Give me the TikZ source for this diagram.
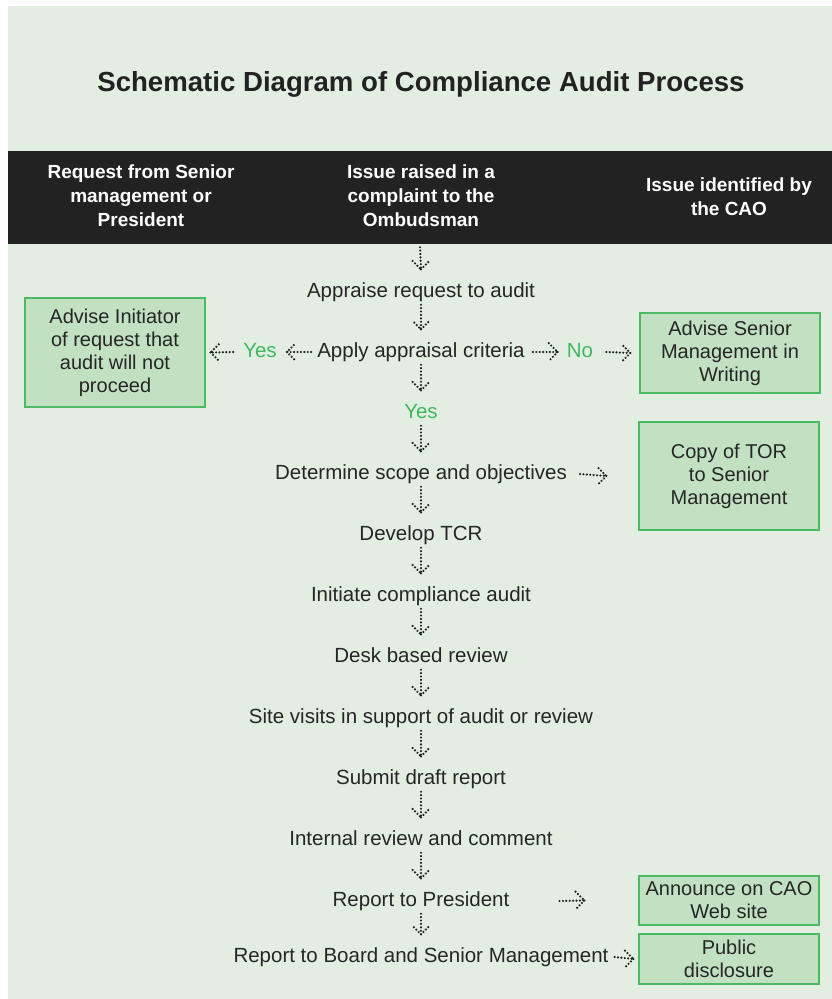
\documentclass[tikz,border=0pt]{standalone}
\usepackage{fontspec}
\setmainfont{Liberation Sans}

\definecolor{bgc}{RGB}{226,238,226}
\definecolor{boxc}{RGB}{194,224,194}
\definecolor{edgec}{RGB}{76,186,98}
\definecolor{okc}{RGB}{64,184,96}
\definecolor{bandc}{RGB}{34,34,34}
\definecolor{inkc}{RGB}{38,38,38}

\tikzset{
  dots/.style={draw=bandc, line width=2.4pt, line cap=round, dash pattern=on 0pt off 3.4pt},
  darr/.style={dots, to path={([yshift=-3pt]\tikztostart) -- ([yshift=13pt]\tikztotarget) -- ++(-9,-9)
      ([yshift=13pt]\tikztotarget) -- ++(9,-9)}},
  rarr/.style 2 args={dots, to path={([xshift=#1]\tikztostart) -- ([xshift=-#2]\tikztotarget) -- ++(-9,-9)
      ([xshift=-#2]\tikztotarget) -- ++(-9,9)}},
  larr/.style 2 args={dots, to path={([xshift=-#1]\tikztostart) -- ([xshift=#2]\tikztotarget) -- ++(9,-9)
      ([xshift=#2]\tikztotarget) -- ++(9,9)}},
  steptxt/.style={text=inkc, inner sep=0pt, text height=14.5pt, text depth=4.5pt,
      font=\fontsize{20.5}{23}\selectfont},
  answer/.style={steptxt, text=okc},
  notebox/.style={draw=edgec, fill=boxc, line width=1.3pt, text=inkc, align=center,
      minimum width=180pt, inner sep=2pt, font=\fontsize{20}{23}\selectfont},
  headtxt/.style={text=white, align=center, font=\bfseries\fontsize{19}{24}\selectfont}
}

\begin{document}
\begin{tikzpicture}[x=1pt, y=-1pt]
  \useasboundingbox (0,0) rectangle (832,999);
  \fill[white] (0,0) rectangle (832,999);
  \fill[bgc] (8,6) rectangle (832,999); % page background

  % title and header band
  \node[text=bandc, font=\bfseries\fontsize{27.6}{30}\selectfont] (title) at (421,84)
      {Schematic Diagram of Compliance Audit Process};
  \node[fill=bandc, minimum width=824pt, minimum height=93pt, inner sep=0pt] (band) at (420,197.5) {};
  \node[headtxt] (senior) at (141,196) {Request from Senior\\management or\\President};
  \node[headtxt] (ombuds) at (421,196) {Issue raised in a\\complaint to the\\Ombudsman};
  \node[headtxt] (cao) at (729,197) {Issue identified by\\the CAO};

  % main column of steps
  \foreach \name/\txt/\y in {appraise/Appraise request to audit/292,
      apply/Apply appraisal criteria/352,
      scope/Determine scope and objectives/474,
      tcr/Develop TCR/535,
      initiate/Initiate compliance audit/596,
      desk/Desk based review/657,
      site/Site visits in support of audit or review/718,
      submit/Submit draft report/779,
      internal/Internal review and comment/840,
      president/Report to President/901,
      board/Report to Board and Senior Management/957}
    \node[steptxt] (\name) at (421,\y) {\txt};

  % yes / no answers
  \node[answer] (yesd) at (421,413) {Yes};
  \node[answer] (yesl) at (260,352) {Yes};
  \node[answer] (nol) at (580,352) {No};

  % side boxes
  \node[notebox, minimum height=109pt] (initiator) at (115,352.5) {Advise Initiator\\of request that\\audit will not\\proceed};
  \node[notebox, minimum height=80pt] (writing) at (730,353) {Advise Senior\\Management in\\Writing};
  \node[notebox, minimum height=108pt] (tor) at (729,476) {Copy of TOR\\to Senior\\Management};
  \node[notebox, minimum height=49pt] (website) at (729,900.5) {Announce on CAO\\Web site};
  \node[notebox, minimum height=50pt] (disclosure) at (729,959) {Public\\disclosure};

  % downward connectors
  \draw[darr] (band.south) to (appraise.north);
  \foreach \a/\b in {appraise/apply, apply/yesd, yesd/scope, scope/tcr, tcr/initiate,
      initiate/desk, desk/site, site/submit, submit/internal, internal/president, president/board}
    \draw[darr] (\a.south) to (\b.north);

  % sideways connectors
  \draw[larr={6pt}{10pt}] (apply.west) to (yesl.east);
  \draw[larr={10pt}{5pt}] (yesl.west) to (initiator.east);
  \draw[rarr={8pt}{9pt}] (apply.east) to (nol.west);
  \draw[rarr={13pt}{9pt}] (nol.east) to (writing.west);
  \draw[rarr={13pt}{32pt}] (scope.east) to (tor.west);
  \draw[rarr={50pt}{54pt}] (president.east) to (website.west);
  \draw[rarr={6pt}{5pt}] (board.east) to (disclosure.west);
\end{tikzpicture}
\end{document}
